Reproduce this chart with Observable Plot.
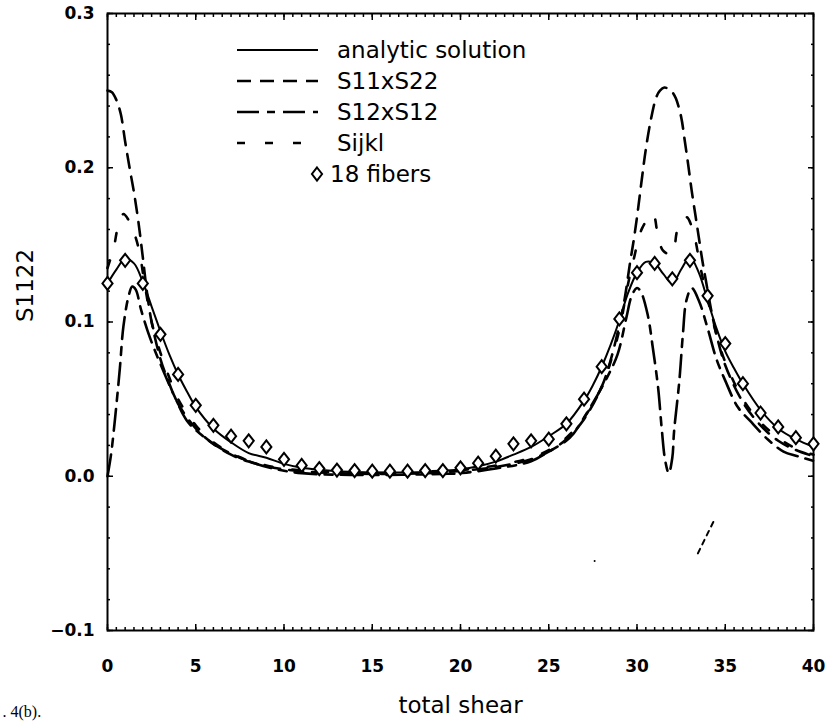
<!DOCTYPE html>
<html>
<head>
<meta charset="utf-8">
<script src="https://cdn.jsdelivr.net/npm/d3@7"></script>
<script src="https://cdn.jsdelivr.net/npm/@observablehq/plot@0.6"></script>
<style>
  html, body { margin: 0; padding: 0; background: #fff; overflow: hidden; }
  #chart svg { display: block; }
</style>
</head>
<body>
<div id="chart"></div>
<script>
// ---- data ----
const xTicks = [0, 5, 10, 15, 20, 25, 30, 35, 40];
const yTicks = [-0.1, 0.0, 0.1, 0.2, 0.3];

// analytic solution
const analyticX = [0,0.5,1,1.5,2,2.5,3,3.5,4,4.5,5,6,7,8,9,10,11,12,13,14,15,16,17,18,19,20,21,22,23,24,25,26,27,27.5,28,28.5,29,29.5,30,30.5,31,31.5,32,32.5,33,33.5,34,34.5,35,35.5,36,37,38,39,40];
const analyticY = [0.125,0.134,0.141,0.138,0.126,0.110,0.094,0.079,0.066,0.055,0.045,0.031,0.022,0.015,0.012,0.008,0.0055,0.0042,0.0033,0.0028,0.0025,0.0025,0.0025,0.0028,0.0035,0.0045,0.0065,0.0095,0.014,0.019,0.026,0.034,0.049,0.059,0.071,0.085,0.101,0.119,0.132,0.139,0.138,0.131,0.125,0.134,0.142,0.132,0.114,0.096,0.081,0.070,0.060,0.043,0.031,0.024,0.019];

// S11xS22
const s11X = [0,0.25,0.5,0.75,1.0,1.25,1.5,1.75,2.0,2.25,2.5,3,3.5,4,5,6,7,8,9,10,12,15,18,20,22,24,25,26,27,28,28.5,29,29.3,29.6,29.8,30.0,30.3,30.5,30.8,31.1,31.3,31.55,31.8,32.0,32.2,32.5,32.7,32.9,33.1,33.3,33.5,33.7,33.9,34.2,34.5,35,36,37,38,39,40];
const s11Y = [0.250,0.249,0.244,0.235,0.217,0.200,0.184,0.165,0.142,0.118,0.100,0.076,0.060,0.047,0.031,0.021,0.014,0.0095,0.0065,0.0045,0.0025,0.0015,0.002,0.0035,0.006,0.011,0.016,0.024,0.037,0.058,0.075,0.098,0.115,0.138,0.152,0.168,0.195,0.212,0.232,0.246,0.250,0.252,0.251,0.249,0.245,0.233,0.218,0.202,0.185,0.170,0.155,0.140,0.127,0.108,0.092,0.072,0.048,0.033,0.023,0.017,0.013];

// S12xS12
const s12X = [0,0.2,0.45,0.7,0.9,1.2,1.4,1.6,1.9,2.4,3.1,3.75,4.5,5.3,6.2,7.5,9.2,11,13,15,17,19,20,22,24,25,26.2,27,28.3,28.9,29.4,29.7,30.0,30.2,30.6,30.9,31.2,31.4,31.6,31.8,32.0,32.1,32.4,32.6,32.8,33.1,33.5,34.0,34.5,35,35.7,36.4,37.4,38.3,39.1,40];
const s12Y = [0.0,0.014,0.040,0.070,0.097,0.117,0.123,0.121,0.108,0.090,0.070,0.053,0.036,0.027,0.0195,0.012,0.0055,0.002,0.001,0.0008,0.001,0.0015,0.002,0.005,0.0097,0.016,0.025,0.038,0.064,0.079,0.103,0.117,0.122,0.120,0.105,0.083,0.057,0.031,0.010,0.002,0.012,0.029,0.062,0.092,0.114,0.122,0.114,0.096,0.076,0.062,0.045,0.036,0.024,0.016,0.013,0.010];

// Sijkl
const sijX = [0,0.35,0.6,0.9,1.2,1.5,1.8,2.1,2.5,3,3.5,4,5,6,7,8,9,10,12,15,18,20,22,24,25,26,27,28,28.5,29,29.5,29.8,30.3,30.9,31.2,31.5,32.0,32.3,32.8,33.2,33.6,34,34.5,35,36,37,38,39,40];
const sijY = [0.135,0.148,0.162,0.170,0.166,0.158,0.146,0.125,0.100,0.080,0.064,0.050,0.033,0.022,0.015,0.010,0.007,0.005,0.003,0.002,0.003,0.004,0.007,0.012,0.017,0.025,0.038,0.058,0.074,0.095,0.125,0.140,0.161,0.170,0.155,0.146,0.144,0.160,0.168,0.158,0.135,0.115,0.092,0.074,0.050,0.035,0.025,0.018,0.014];

// 18 fibers (diamonds)
const fiberX = [0,1,2,3,4,5,6,7,8,9,10,11,12,13,14,15,16,17,18,19,20,21,22,23,24,25,26,27,28,29,30,31,32,33,34,35,36,37,38,39,40];
const fiberY = [0.125,0.140,0.125,0.092,0.066,0.046,0.033,0.026,0.023,0.019,0.011,0.007,0.005,0.004,0.0037,0.0033,0.0033,0.0033,0.0037,0.0037,0.0055,0.0085,0.013,0.021,0.023,0.024,0.034,0.050,0.071,0.102,0.132,0.138,0.128,0.140,0.117,0.086,0.060,0.041,0.032,0.025,0.021];

// stray scan marks below the curves
const strayX = [33.45, 34.35];
const strayY = [-0.050, -0.029];
const speckX = [27.6];
const speckY = [-0.055];

const seriesNames = ["analytic solution", "S11xS22", "S12xS12", "Sijkl"];
const fiberName = "18 fibers";
const yLabel = "S1122";
const xLabel = "total shear";
const caption = ". 4(b).";

// ---- build tables ----
const zip = (xs, ys) => xs.map((x, i) => ({x, y: ys[i]}));
const analytic = zip(analyticX, analyticY);
const s11 = zip(s11X, s11Y);
const s12 = zip(s12X, s12Y);
const sij = zip(sijX, sijY);
const fibers = zip(fiberX, fiberY);
const stray = zip(strayX, strayY);
const speck = zip(speckX, speckY);

const dashes = [null, "14,9", "22,8,8,8", "8,20"];

const xMinor = d3.range(0, 40.001, 0.5);
const yMinor = d3.range(-0.1, 0.3001, 0.02).map(v => +v.toFixed(3));

const tallDiamond = {
  draw(ctx, size) {
    const r = Math.sqrt(size / Math.PI);
    ctx.moveTo(0, -r);
    ctx.lineTo(0.78 * r, 0);
    ctx.lineTo(0, r);
    ctx.lineTo(-0.78 * r, 0);
    ctx.closePath();
  }
};

const FONT = "DejaVu Sans";
const blank = () => "";

const svg = Plot.plot({
  width: 830,
  height: 725,
  marginLeft: 107,
  marginRight: 17,
  marginTop: 13,
  marginBottom: 95,
  style: {fontFamily: FONT, fontSize: "16px", background: "#fff", color: "#000", overflow: "hidden"},
  x: {domain: [0, 40]},
  y: {domain: [-0.1, 0.3]},
  marks: [
    // inward ticks on all four sides
    Plot.axisX({anchor: "bottom", ticks: xMinor, tickSize: -3, tickFormat: blank, label: null, strokeWidth: 1.5}),
    Plot.axisX({anchor: "bottom", ticks: xTicks, tickSize: -6, tickFormat: blank, label: null, strokeWidth: 1.5}),
    Plot.axisX({anchor: "top", ticks: xMinor, tickSize: -3, tickFormat: blank, label: null, strokeWidth: 1.5}),
    Plot.axisX({anchor: "top", ticks: xTicks, tickSize: -6, tickFormat: blank, label: null, strokeWidth: 1.5}),
    Plot.axisY({anchor: "left", ticks: yMinor, tickSize: -3, tickFormat: blank, label: null, strokeWidth: 1.5}),
    Plot.axisY({anchor: "left", ticks: yTicks, tickSize: -6, tickFormat: blank, label: null, strokeWidth: 1.5}),
    Plot.axisY({anchor: "right", ticks: yMinor, tickSize: -3, tickFormat: blank, label: null, strokeWidth: 1.5}),
    Plot.axisY({anchor: "right", ticks: yTicks, tickSize: -6, tickFormat: blank, label: null, strokeWidth: 1.5}),
    // tick labels
    Plot.axisX({anchor: "bottom", ticks: xTicks, tickSize: 0, tickPadding: 29, tickFormat: d3.format("d"),
                fontWeight: "bold", fontSize: 17, label: null}),
    Plot.axisY({anchor: "left", ticks: yTicks, tickSize: 0, tickPadding: 13, tickFormat: d3.format(".1f"),
                fontWeight: "bold", fontSize: 17, label: null}),
    Plot.frame({stroke: "#000", strokeWidth: 2}),
    // curves
    Plot.line(s11, {x: "x", y: "y", stroke: "#000", strokeWidth: 2.6, strokeDasharray: dashes[1], curve: "catmull-rom"}),
    Plot.line(s12, {x: "x", y: "y", stroke: "#000", strokeWidth: 2.6, strokeDasharray: dashes[2], curve: "catmull-rom"}),
    Plot.line(sij, {x: "x", y: "y", stroke: "#000", strokeWidth: 2.6, strokeDasharray: dashes[3], curve: "catmull-rom"}),
    Plot.line(analytic, {x: "x", y: "y", stroke: "#000", strokeWidth: 2, curve: "catmull-rom"}),
    Plot.dot(fibers, {x: "x", y: "y", symbol: tallDiamond, r: 6.5, stroke: "#000", strokeWidth: 2, fill: "#fff"}),
    Plot.line(stray, {x: "x", y: "y", stroke: "#000", strokeWidth: 2, strokeDasharray: "5,5"}),
    Plot.dot(speck, {x: "x", y: "y", r: 1, fill: "#000"}),
    // axis titles and caption
    Plot.text([xLabel], {text: d => d, frameAnchor: "bottom", dy: 82, fontSize: 23, fill: "#000"}),
    Plot.text([yLabel], {text: d => d, frameAnchor: "left", dx: -82, rotate: -90, fontSize: 23, fill: "#000"}),
    Plot.text([caption], {text: d => d, frameAnchor: "bottom-left", dx: -105, dy: 86, textAnchor: "start",
                          fontFamily: "Liberation Serif", fontSize: 16, fill: "#000"})
  ]
});

// ---- legend (inside the frame, upper middle) ----
const lg = d3.select(svg).append("g")
  .attr("font-family", FONT).attr("font-size", 23).attr("fill", "#000")
  .attr("text-anchor", "start");
const lx1 = 237, lx2 = 318, ltx = 337, ly0 = 50, lstep = 31;
seriesNames.forEach((name, i) => {
  const y = ly0 + i * lstep;
  lg.append("line").attr("x1", lx1).attr("x2", lx2).attr("y1", y).attr("y2", y)
    .attr("stroke", "#000").attr("stroke-width", i === 0 ? 2 : 2.6)
    .attr("stroke-dasharray", dashes[i]);
  lg.append("text").attr("x", ltx).attr("y", y).attr("dy", "0.35em")
    .attr("text-anchor", "start").text(name);
});
const fy = ly0 + 4 * lstep;
lg.append("path").attr("transform", `translate(317,${fy})`)
  .attr("d", d3.symbol(tallDiamond, Math.PI * 6.5 * 6.5)())
  .attr("fill", "#fff").attr("stroke", "#000").attr("stroke-width", 2);
lg.append("text").attr("x", 330).attr("y", fy).attr("dy", "0.35em")
  .attr("text-anchor", "start").text(fiberName);

document.getElementById("chart").appendChild(svg);
</script>
</body>
</html>
